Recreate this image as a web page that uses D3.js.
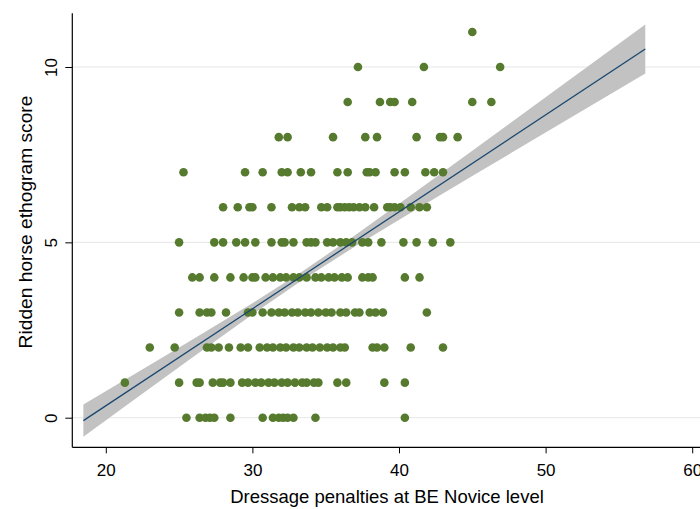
<!DOCTYPE html>
<html><head><meta charset="utf-8">
<script src="https://cdn.jsdelivr.net/npm/d3@7"></script>
<style>html,body{margin:0;padding:0;background:#fff;overflow:hidden}</style>
</head><body>
<svg id="chart" width="700" height="509"></svg>
<script>
// ---- data ----
const xTicks = [20, 30, 40, 50, 60];
const yTicks = [0, 5, 10];
const scores = [0, 1, 2, 3, 4, 5, 6, 7, 8, 9, 10, 11];
const score0 = [25.5, 26.4, 26.8, 27.1, 27.4, 28.5, 30.7, 31.4, 31.8, 32.1, 32.4, 32.8, 34.3, 40.4];
const score1 = [21.3, 25.0, 26.2, 26.4, 27.3, 27.8, 28.0, 28.5, 29.3, 29.7, 30.2, 30.6, 31.1, 31.5, 32.0, 32.4, 32.9, 33.4, 33.7, 34.2, 34.5, 35.8, 36.4, 39.0, 40.4];
const score2 = [23.0, 24.7, 26.9, 27.2, 27.7, 28.4, 29.2, 29.7, 30.5, 31.0, 31.4, 31.9, 32.3, 32.8, 33.2, 33.7, 34.1, 34.6, 35.1, 35.5, 36.0, 36.3, 38.2, 38.5, 39.0, 40.8, 43.0];
const score3 = [25.0, 26.4, 26.9, 27.2, 28.2, 29.7, 30.0, 30.7, 31.3, 31.8, 32.2, 32.7, 33.1, 33.6, 34.0, 34.5, 35.0, 35.4, 36.0, 36.4, 37.0, 37.3, 38.0, 38.4, 38.9, 41.9];
const score4 = [25.9, 26.4, 27.4, 28.5, 29.4, 30.0, 30.2, 30.9, 31.4, 31.9, 32.3, 32.8, 33.2, 33.7, 34.3, 34.7, 35.2, 35.6, 36.1, 36.5, 37.5, 37.9, 38.2, 40.4, 41.4];
const score5 = [25.0, 27.4, 28.0, 28.9, 29.5, 30.2, 31.3, 32.0, 32.2, 32.8, 33.7, 34.0, 34.3, 35.1, 35.5, 36.0, 36.4, 36.8, 37.5, 37.9, 38.8, 40.3, 41.2, 42.3, 43.5];
const score6 = [28.0, 29.0, 29.8, 30.0, 31.3, 32.7, 33.2, 33.6, 34.7, 35.1, 35.8, 36.0, 36.3, 36.6, 36.9, 37.3, 37.7, 38.3, 39.2, 39.4, 39.7, 40.1, 40.8, 41.4, 41.9];
const score7 = [25.3, 29.5, 30.7, 32.0, 32.4, 33.3, 34.0, 35.8, 36.5, 37.8, 38.0, 38.4, 39.7, 40.4, 41.8, 42.4, 43.0];
const score8 = [31.8, 32.4, 35.5, 37.7, 38.5, 41.2, 42.8, 43.0, 44.0];
const score9 = [36.5, 38.7, 39.4, 39.7, 40.9, 45.0, 46.3];
const score10 = [37.2, 41.7, 46.9];
const score11 = [45.0];
const penaltiesByScore = [score0, score1, score2, score3, score4, score5, score6, score7, score8, score9, score10, score11];

// linear fit and 95% CI band
const fitX = [18.47, 56.8];
const fitY = [-0.083, 10.515];
const bandX  = [18.47, 22, 26, 30, 33.5, 37, 41, 45, 50, 56.8];
const bandLo = [-0.544, 0.531, 1.746, 2.945, 3.951, 4.881, 5.894, 6.891, 8.132, 9.815];
const bandHi = [0.378, 1.255, 2.252, 3.265, 4.196, 5.201, 6.400, 7.615, 9.138, 11.215];

// ---- drawing ----
const FONT = "'Liberation Sans', Arial, Helvetica, sans-serif";
const svg = d3.select('#chart');
const plotLeft = 72.3, plotBottom = 447.3, plotTop = 13.3, plotRight = 702;
const x = d3.scaleLinear().domain([20, 60]).range([105.8, 692.2]);
const y = d3.scaleLinear().domain([0, 10]).range([417.7, 67]);

svg.append('rect').attr('width', 700).attr('height', 509).attr('fill', '#fff');

// gridlines
svg.append('g').selectAll('line').data(yTicks).join('line')
  .attr('x1', plotLeft).attr('x2', plotRight)
  .attr('y1', d => y(d)).attr('y2', d => y(d))
  .attr('stroke', '#e6e6e6').attr('stroke-width', 1);

// CI band
const area = d3.area()
  .x((d, i) => x(bandX[i]))
  .y0((d, i) => y(bandLo[i]))
  .y1((d, i) => y(bandHi[i]));
svg.append('path').datum(bandX).attr('d', area).attr('fill', '#c2c2c2');

// points
const points = [];
scores.forEach((s, i) => penaltiesByScore[i].forEach(p => points.push({x: p, y: s})));
svg.append('g').selectAll('circle').data(points).join('circle')
  .attr('cx', d => x(d.x)).attr('cy', d => y(d.y)).attr('r', 4.3)
  .attr('fill', '#567a2e');

// fit line
const line = d3.line().x((d, i) => x(fitX[i])).y((d, i) => y(fitY[i]));
svg.append('path').datum(fitX).attr('d', line)
  .attr('fill', 'none').attr('stroke', '#1a476f').attr('stroke-width', 1.3);

// axes
const xAxis = svg.append('g').attr('transform', `translate(0,${plotBottom})`)
  .call(d3.axisBottom(x).tickValues(xTicks).tickSize(6).tickSizeOuter(0).tickFormat(d3.format('d')));
xAxis.select('.domain').remove();
xAxis.selectAll('line').attr('stroke', '#000').attr('stroke-width', 1);
xAxis.selectAll('text').attr('y', 28.7).attr('dy', 0)
  .attr('font-family', FONT).attr('font-size', 17).attr('fill', '#000');

const yAxis = svg.append('g').attr('transform', `translate(${plotLeft},0)`)
  .call(d3.axisLeft(y).tickValues(yTicks).tickSize(7).tickSizeOuter(0).tickFormat(d3.format('d')));
yAxis.select('.domain').remove();
yAxis.selectAll('line').attr('stroke', '#000').attr('stroke-width', 1);
yAxis.selectAll('text').attr('x', 0).attr('dy', 0)
  .attr('text-anchor', 'middle')
  .attr('transform', 'translate(-15.6,0) rotate(-90)')
  .attr('font-family', FONT).attr('font-size', 17).attr('fill', '#000');

// axis lines
svg.append('line').attr('x1', plotLeft).attr('x2', plotLeft).attr('y1', plotTop).attr('y2', plotBottom)
  .attr('stroke', '#000').attr('stroke-width', 1.2);
svg.append('line').attr('x1', plotLeft).attr('x2', plotRight).attr('y1', plotBottom).attr('y2', plotBottom)
  .attr('stroke', '#000').attr('stroke-width', 1.2);

// titles
svg.append('text').attr('x', 387).attr('y', 503).attr('text-anchor', 'middle')
  .attr('font-family', FONT).attr('font-size', 18.5).attr('fill', '#000')
  .text('Dressage penalties at BE Novice level');
svg.append('text').attr('transform', 'translate(31.7,222) rotate(-90)').attr('text-anchor', 'middle')
  .attr('font-family', FONT).attr('font-size', 19.2).attr('fill', '#000')
  .text('Ridden horse ethogram score');
</script>
</body></html>
